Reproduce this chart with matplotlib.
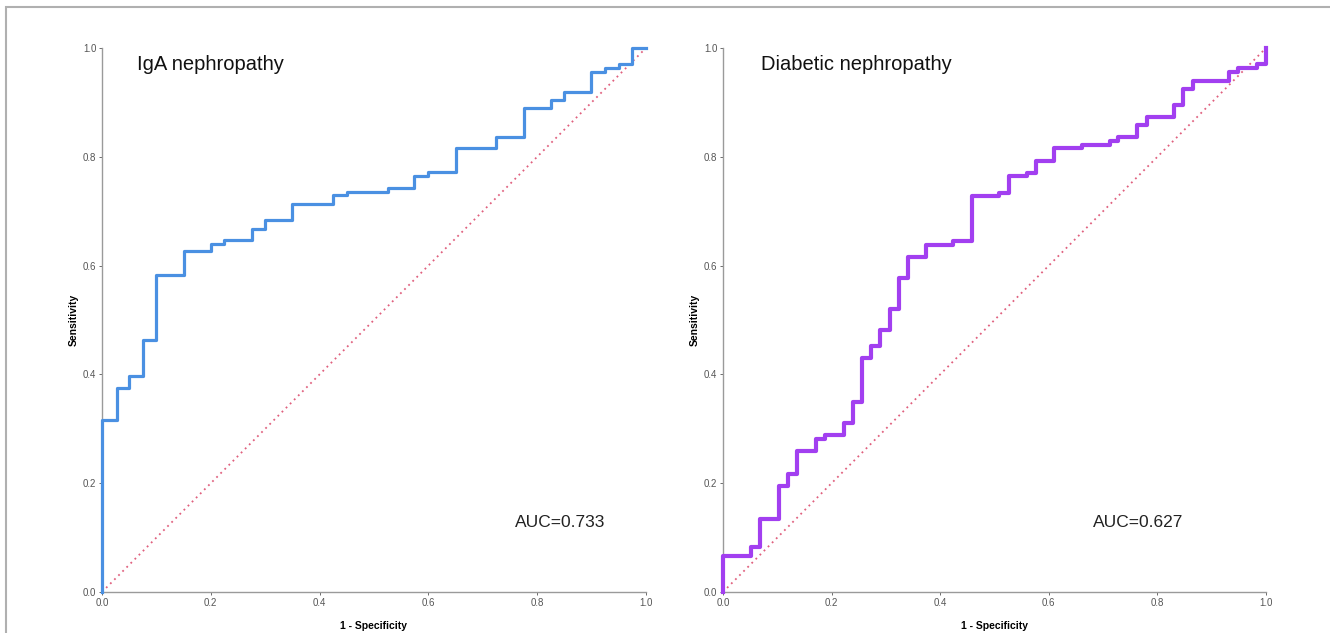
import numpy as np
import matplotlib.pyplot as plt
from matplotlib.patches import Rectangle

plt.rcParams['font.family'] = ['Liberation Sans', 'DejaVu Sans']

# ROC step points: (1 - specificity, sensitivity) after each rise
iga_fpr = [0, 0, 0.028, 0.05, 0.075, 0.10, 0.151, 0.20, 0.225, 0.276, 0.30, 0.35, 0.425,
           0.45, 0.525, 0.573, 0.60, 0.65, 0.724, 0.775, 0.825, 0.849, 0.899, 0.925,
           0.95, 0.975, 1.0]
iga_tpr = [0, 0.316, 0.375, 0.397, 0.463, 0.582, 0.626, 0.64, 0.647, 0.668, 0.684, 0.713,
           0.729, 0.735, 0.742, 0.765, 0.772, 0.816, 0.837, 0.889, 0.904, 0.919, 0.955,
           0.963, 0.971, 1.0, 1.0]

dn_fpr = [0, 0, 0.051, 0.068, 0.103, 0.12, 0.137, 0.171, 0.188, 0.223, 0.239, 0.256, 0.273,
          0.29, 0.308, 0.324, 0.34, 0.374, 0.424, 0.459, 0.509, 0.526, 0.559, 0.576, 0.61,
          0.662, 0.712, 0.728, 0.763, 0.78, 0.831, 0.848, 0.865, 0.932, 0.949, 0.983, 1.0]
dn_tpr = [0, 0.066, 0.083, 0.134, 0.194, 0.216, 0.26, 0.282, 0.289, 0.311, 0.349, 0.43, 0.453,
          0.482, 0.52, 0.578, 0.615, 0.638, 0.645, 0.727, 0.733, 0.765, 0.77, 0.793, 0.816,
          0.822, 0.829, 0.836, 0.858, 0.874, 0.895, 0.925, 0.94, 0.955, 0.963, 0.97, 1.0]

titles = ["IgA nephropathy", "Diabetic nephropathy"]
auc_labels = ["AUC=0.733", "AUC=0.627"]
ticks = [0.0, 0.2, 0.4, 0.6, 0.8, 1.0]
tick_labels = ["0.0", "0.2", "0.4", "0.6", "0.8", "1.0"]

fig = plt.figure(figsize=(13.3, 6.33), dpi=100)

# grey frame around the figure
fig.patches.append(Rectangle((6 / 1330, -0.1), 1.2, 1.1 - 7 / 633, transform=fig.transFigure,
                             fill=False, edgecolor="#b0b0b0", linewidth=1.5))

ax1 = fig.add_axes([0.0767, 0.0648, 0.409, 0.8594])
ax2 = fig.add_axes([0.5436, 0.0648, 0.4083, 0.8594])

series = [(ax1, iga_fpr, iga_tpr, "#4a90e2", 2.3, 0.064, 0.842),
          (ax2, dn_fpr, dn_tpr, "#a23ff0", 3.0, 0.07, 0.764)]

for i, (ax, fpr, tpr, col, lw, tx, ax_auc) in enumerate(series):
    ax.plot([0, 1], [0, 1], linestyle=(0, (1, 2.2)), color="#e0607e", linewidth=1.3)
    ax.step(fpr, tpr, where="post", color=col, linewidth=lw, clip_on=False, zorder=3)

    ax.set_xlim(0, 1)
    ax.set_ylim(0, 1)
    ax.set_xticks(ticks)
    ax.set_xticklabels(tick_labels)
    ax.set_yticks(ticks)
    ax.set_yticklabels(tick_labels)
    ax.tick_params(labelsize=7, colors="#555555", length=2, width=0.6, pad=2)

    for s in ["top", "right"]:
        ax.spines[s].set_visible(False)
    for s in ["left", "bottom"]:
        ax.spines[s].set_color("#9a9a9a")
        ax.spines[s].set_linewidth(1.0)

    ax.set_xlabel("1 - Specificity", fontsize=7.5, fontweight="bold", labelpad=10)
    ax.set_ylabel("Sensitivity", fontsize=7.5, fontweight="bold", labelpad=3)

    ax.text(tx, 0.969, titles[i], fontsize=14.5, va="center", ha="left", color="#111111")
    ax.text(ax_auc, 0.127, auc_labels[i], fontsize=12.5, va="center", ha="center", color="#222222")

plt.savefig("out.png", dpi=100)
